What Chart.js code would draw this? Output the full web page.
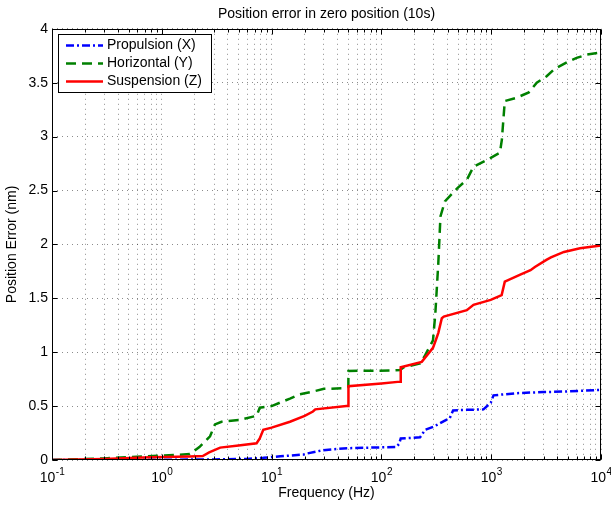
<!DOCTYPE html>
<html>
<head>
<meta charset="utf-8">
<script src="https://cdn.jsdelivr.net/npm/chart.js@4.4.1/dist/chart.umd.min.js"></script>
<style>
  html, body { margin: 0; padding: 0; background: #fff; }
  canvas { display: block; }
</style>
</head>
<body>
<canvas id="chart" width="611" height="506"></canvas>
<script>
// values
const seriesNames = ['Propulsion (X)', 'Horizontal (Y)', 'Suspension (Z)'];

const propFreq = [0.1, 1, 3, 6, 8.4, 12, 19.5, 21, 29, 37, 52, 80, 137, 145, 150, 225, 250, 300, 340, 420, 450, 600, 850, 990, 1050, 1700, 3000, 4600, 10000];
const propErr  = [0, 0.002, 0.005, 0.01, 0.02, 0.035, 0.05, 0.06, 0.09, 0.1, 0.11, 0.115, 0.12, 0.15, 0.2, 0.21, 0.28, 0.31, 0.34, 0.39, 0.46, 0.465, 0.47, 0.53, 0.6, 0.62, 0.63, 0.635, 0.65];

const horFreq = [0.1, 0.3, 1, 1.8, 2.2, 2.75, 3.05, 3.5, 5, 7.3, 7.8, 10, 14.7, 18, 23.8, 30, 44.5, 50, 50.1, 120, 148, 160, 225, 250, 295, 310, 320, 330, 345, 379, 450, 490, 600, 690, 900, 1200, 1250, 1330, 1700, 2200, 2600, 3200, 3800, 4900, 6000, 7400, 10000];
const horErr  = [0, 0.015, 0.04, 0.055, 0.12, 0.22, 0.33, 0.355, 0.37, 0.41, 0.485, 0.5, 0.57, 0.61, 0.635, 0.66, 0.665, 0.68, 0.826, 0.83, 0.835, 0.86, 0.897, 0.97, 1.11, 1.36, 1.6, 1.83, 2.26, 2.4, 2.48, 2.52, 2.6, 2.72, 2.78, 2.85, 2.97, 3.33, 3.36, 3.41, 3.5, 3.56, 3.63, 3.69, 3.73, 3.76, 3.78];

const susFreq = [0.1, 0.3, 0.78, 1.8, 2.36, 2.7, 3.4, 5, 7.3, 7.8, 8.4, 10, 14.7, 20, 23.8, 25, 48, 50, 50.1, 100, 148, 150, 233, 295, 315, 330, 355, 370, 600, 690, 990, 1245, 1330, 1840, 2280, 2500, 3180, 3500, 4600, 6440, 10000];
const susErr  = [0, 0.01, 0.025, 0.033, 0.037, 0.07, 0.115, 0.135, 0.155, 0.2, 0.28, 0.3, 0.355, 0.41, 0.45, 0.47, 0.5, 0.5, 0.685, 0.71, 0.727, 0.86, 0.91, 1.04, 1.12, 1.18, 1.315, 1.33, 1.39, 1.44, 1.485, 1.53, 1.655, 1.72, 1.76, 1.79, 1.856, 1.88, 1.93, 1.965, 1.99];

const xMajorTicks = [0.1, 1, 10, 100, 1000, 10000];
const xTickExps = ['-1', '0', '1', '2', '3', '4'];
const yTicks = [0, 0.5, 1, 1.5, 2, 2.5, 3, 3.5, 4];

const FONT = '"Liberation Sans", Arial, Helvetica, sans-serif';
const GRID = 'rgba(0,0,0,0.45)';

// minor decades 2..9 between the major ticks
const xAllTicks = [];
xMajorTicks.forEach((m, i) => {
  xAllTicks.push(m);
  if (i < xMajorTicks.length - 1) {
    for (let k = 2; k <= 9; k++) xAllTicks.push(m * k);
  }
});

const toPoints = (xs, ys) => xs.map((f, i) => ({ x: f, y: ys[i] }));

// box, inward ticks, x labels with exponents, legend
const matlabAxes = {
  id: 'matlabAxes',
  afterDatasetsDraw(chart) {
    const { ctx, chartArea: a, scales: { x, y } } = chart;
    const L = Math.round(a.left) + 0.5, R = Math.round(a.right) - 0.5;
    const T = Math.round(a.top) + 0.5, B = Math.round(a.bottom) - 0.5;
    ctx.save();
    ctx.strokeStyle = '#000';
    ctx.lineWidth = 1;
    ctx.setLineDash([]);
    ctx.strokeRect(L, T, R - L, B - T);

    ctx.beginPath();
    yTicks.forEach(v => {
      const py = Math.round(y.getPixelForValue(v)) + 0.5;
      ctx.moveTo(L, py); ctx.lineTo(L + 5, py);
      ctx.moveTo(R, py); ctx.lineTo(R - 5, py);
    });
    xAllTicks.forEach(v => {
      const px = Math.round(x.getPixelForValue(v)) + 0.5;
      const len = xMajorTicks.includes(v) ? 5 : 3;
      ctx.moveTo(px, B); ctx.lineTo(px, B - len);
      ctx.moveTo(px, T); ctx.lineTo(px, T + len);
    });
    ctx.stroke();

    // x tick labels: 10 with superscript exponent
    ctx.fillStyle = '#000';
    ctx.textBaseline = 'alphabetic';
    ctx.textAlign = 'left';
    xMajorTicks.forEach((v, i) => {
      const px = x.getPixelForValue(v);
      ctx.font = '14px ' + FONT;
      const w1 = ctx.measureText('10').width;
      ctx.font = '10px ' + FONT;
      const w2 = ctx.measureText(xTickExps[i]).width;
      const x0 = px - (w1 + w2) / 2;
      ctx.font = '14px ' + FONT;
      ctx.fillText('10', x0, B + 22);
      ctx.font = '10px ' + FONT;
      ctx.fillText(xTickExps[i], x0 + w1 + 0.5, B + 15);
    });

    // legend
    const lx = 58.5, ly = 34.5, lw = 153, lh = 58;
    ctx.fillStyle = '#fff';
    ctx.fillRect(lx, ly, lw, lh);
    ctx.strokeStyle = '#000';
    ctx.strokeRect(lx, ly, lw, lh);
    ctx.font = '14px ' + FONT;
    ctx.textBaseline = 'middle';
    chart.data.datasets.forEach((ds, i) => {
      const ry = 45.5 + i * 18;
      ctx.strokeStyle = ds.borderColor;
      ctx.lineWidth = ds.borderWidth;
      ctx.setLineDash(ds.borderDash || []);
      ctx.beginPath();
      ctx.moveTo(66, ry); ctx.lineTo(103, ry);
      ctx.stroke();
      ctx.setLineDash([]);
      ctx.fillStyle = '#000';
      ctx.fillText(ds.label, 107, ry);
    });
    ctx.restore();
  }
};

new Chart(document.getElementById('chart'), {
  type: 'line',
  data: {
    datasets: [
      {
        label: seriesNames[0],
        data: toPoints(propFreq, propErr),
        borderColor: 'rgb(0, 0, 255)',
        borderWidth: 2.5,
        borderDash: [8, 3, 2, 3],
        order: 2
      },
      {
        label: seriesNames[1],
        data: toPoints(horFreq, horErr),
        borderColor: 'rgb(0, 128, 0)',
        borderWidth: 2.5,
        borderDash: [10, 6],
        order: 1
      },
      {
        label: seriesNames[2],
        data: toPoints(susFreq, susErr),
        borderColor: 'rgb(255, 0, 0)',
        borderWidth: 2.5,
        order: 0
      }
    ]
  },
  options: {
    responsive: false,
    animation: false,
    devicePixelRatio: 1,
    layout: { padding: { left: 0, right: 10, top: 0, bottom: 0 } },
    elements: {
      point: { radius: 0, hoverRadius: 0 },
      line: { tension: 0, fill: false, borderCapStyle: 'butt' }
    },
    plugins: {
      legend: { display: false },
      tooltip: { enabled: false },
      title: {
        display: true,
        text: 'Position error in zero position (10s)',
        color: '#000',
        fullSize: false,
        font: { family: FONT, size: 14, weight: 'normal' },
        padding: { top: 6, bottom: 6 }
      }
    },
    scales: {
      x: {
        type: 'logarithmic',
        min: 0.1,
        max: 10000,
        afterBuildTicks: s => { s.ticks = xAllTicks.map(v => ({ value: v })); },
        afterFit: s => { s.height = 46; },
        ticks: { display: false },
        grid: { color: GRID, lineWidth: 1, drawTicks: false },
        border: { display: false, dash: [1, 4] },
        title: {
          display: true,
          text: 'Frequency (Hz)',
          color: '#000',
          font: { family: FONT, size: 14 },
          padding: { top: 0, bottom: 4 }
        }
      },
      y: {
        type: 'linear',
        min: 0,
        max: 4,
        afterBuildTicks: s => { s.ticks = yTicks.map(v => ({ value: v })); },
        afterFit: s => { s.width = 52; },
        ticks: {
          color: '#000',
          padding: 4,
          font: { family: FONT, size: 14 },
          callback: v => String(v)
        },
        grid: { color: GRID, lineWidth: 1, drawTicks: false },
        border: { display: false, dash: [1, 4] },
        title: {
          display: true,
          text: 'Position Error (nm)',
          color: '#000',
          font: { family: FONT, size: 14 },
          padding: { top: 4, bottom: 0 }
        }
      }
    }
  },
  plugins: [matlabAxes]
});
</script>
</body>
</html>
